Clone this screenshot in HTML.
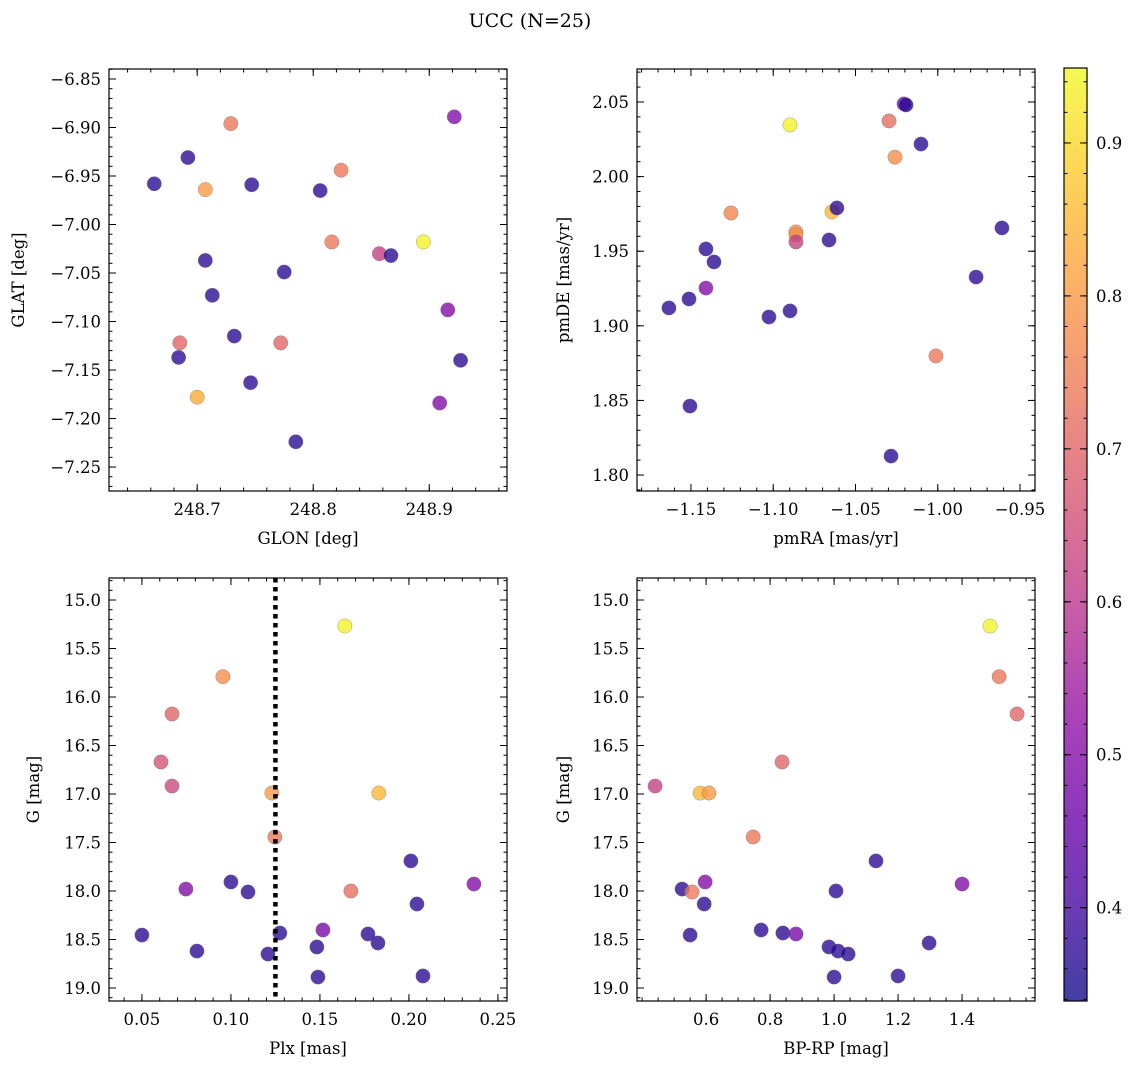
<!DOCTYPE html>
<html><head><meta charset="utf-8"><style>
body{margin:0;background:#fff;}
svg{display:block;font-family:"DejaVu Serif","Liberation Serif",serif;}
</style></head><body>
<svg id="fig" width="1136" height="1068" viewBox="0 0 1136 1068" xmlns="http://www.w3.org/2000/svg">
<text x="530" y="27" font-size="19" text-anchor="middle">UCC (N=25)</text>
</svg>
<script>
// ---- data ----
const glon = [248.9216,248.729,248.692,248.663,248.747,248.707,248.806,248.824,248.816,248.895,248.857,248.867,248.707,248.775,248.713,248.916,248.732,248.685,248.772,248.684,248.927,248.746,248.700,248.909,248.785];
const glat = [-6.889,-6.896,-6.931,-6.958,-6.959,-6.964,-6.965,-6.944,-7.018,-7.018,-7.030,-7.032,-7.037,-7.049,-7.073,-7.088,-7.115,-7.122,-7.122,-7.137,-7.140,-7.163,-7.178,-7.184,-7.224];
const probSky = [0.50,0.74,0.37,0.37,0.37,0.80,0.37,0.74,0.74,0.94,0.62,0.37,0.37,0.37,0.37,0.50,0.37,0.70,0.70,0.37,0.37,0.37,0.83,0.50,0.37];

const pmra = [-1.0205,-1.0193,-1.0296,-1.026,-1.0102,-1.0898,-1.1257,-1.0862,-1.0862,-1.0862,-1.0643,-1.0613,-1.0661,-0.961,-1.1409,-1.136,-1.1409,-0.9767,-1.1512,-1.1634,-1.1026,-1.0898,-1.0011,-1.1506,-1.0284];
const pmde = [2.0487,2.048,2.0373,2.013,2.0218,2.0346,1.9756,1.9629,1.961,1.9562,1.9763,1.979,1.9575,1.9656,1.9515,1.9428,1.9253,1.9327,1.918,1.912,1.9059,1.91,1.8798,1.8462,1.8127];
const probPm = [0.48,0.37,0.72,0.78,0.37,0.94,0.76,0.77,0.79,0.62,0.85,0.37,0.37,0.37,0.37,0.37,0.50,0.37,0.37,0.37,0.37,0.37,0.74,0.37,0.37];

const plx = [0.164,0.0955,0.0669,0.0607,0.0669,0.123,0.1831,0.1247,0.2011,0.0747,0.100,0.1096,0.1674,0.2365,0.2045,0.050,0.1517,0.1275,0.177,0.1826,0.1483,0.0809,0.1208,0.1489,0.2079];
const bprp = [1.4875,1.516,1.572,0.8375,0.4406,0.5813,0.609,0.747,1.131,0.525,0.597,0.556,1.006,1.400,0.594,0.550,0.772,0.840,0.881,1.297,0.984,1.0125,1.044,1.000,1.200];
const gmag = [15.268,15.79,16.175,16.67,16.918,16.99,16.99,17.443,17.69,17.98,17.907,18.01,18.0,17.928,18.134,18.454,18.402,18.433,18.443,18.536,18.577,18.619,18.65,18.887,18.876];
const probPlx = [0.94,0.78,0.70,0.66,0.64,0.80,0.85,0.74,0.37,0.50,0.37,0.37,0.72,0.50,0.37,0.37,0.48,0.37,0.37,0.37,0.37,0.37,0.37,0.37,0.37];
const probCmd = [0.94,0.74,0.70,0.70,0.62,0.85,0.80,0.74,0.37,0.37,0.50,0.74,0.37,0.50,0.37,0.37,0.37,0.37,0.48,0.37,0.37,0.37,0.37,0.37,0.37];
const plxCut = [0.125];

const cbTicks = [0.4,0.5,0.6,0.7,0.8,0.9];
const cbMin = 0.339, cbMax = 0.949;

const NS="http://www.w3.org/2000/svg";
const svg=document.getElementById('fig');
const ALPHA=0.78;
function mk(tag,attrs,parent){const e=document.createElementNS(NS,tag);for(const k in attrs)e.setAttribute(k,attrs[k]);(parent||svg).appendChild(e);return e;}
const stops=[[13,8,135],[65,4,157],[106,0,168],[143,13,164],[177,42,144],[204,71,120],[225,100,98],[242,132,75],[252,166,54],[252,206,37],[240,249,33]];
function plasma(t){t=Math.max(0,Math.min(1,t));const f=t*10,i=Math.min(9,Math.floor(f)),r=f-i;const a=stops[i],b=stops[i+1];return 'rgb('+a.map((v,j)=>Math.round(v+(b[j]-v)*r)).join(',')+')';}
function col(p){return plasma((p-cbMin)/(cbMax-cbMin));}
function fmt(v,d){return (v<0?'\u2212':'')+Math.abs(v).toFixed(d);}

function panel(cfg){
  const {name,L,T,R,B,xmin,xmax,ymin,ymax,yinv,xt,xd,xminor,yt,yd,yminor,xlabel,ylabel,ylx,xs,ys,ps}=cfg;
  const sx=v=>L+(v-xmin)/(xmax-xmin)*(R-L);
  const sy=yinv?(v=>T+(v-ymin)/(ymax-ymin)*(B-T)):(v=>B-(v-ymin)/(ymax-ymin)*(B-T));
  const g=mk('g',{});
  
  
  const pts=mk('g',{},g);
  
  
  xs.forEach((x,i)=>{const c=mk('circle',{cx:sx(x),cy:sy(ys[i]),r:7.2,fill:col(ps[i]),'fill-opacity':ALPHA,stroke:'#777','stroke-width':0.5,'stroke-opacity':0.7},pts);
    
    });
  if(cfg.vline){cfg.vline.forEach(v=>{const l=mk('line',{x1:sx(v),x2:sx(v),y1:T,y2:B,stroke:'#000','stroke-width':4.5,'stroke-dasharray':'4.5,4.5'},g);
    
    });}
  const fr=mk('rect',{x:L,y:T,width:R-L,height:B-T,fill:'none',stroke:'#000','stroke-width':1.2},g);
  
  
  const tk=mk('g',{stroke:'#000','stroke-width':1},g);
  
  
  for(let v=Math.ceil(xmin/xminor-1e-6)*xminor;v<=xmax+1e-9;v+=xminor){const p=sx(v);mk('line',{x1:p,x2:p,y1:B,y2:B-3.5},tk);mk('line',{x1:p,x2:p,y1:T,y2:T+3.5},tk);}
  for(let v=Math.ceil(ymin/yminor-1e-6)*yminor;v<=ymax+1e-9;v+=yminor){const p=sy(v);mk('line',{x1:L,x2:L+3.5,y1:p,y2:p},tk);mk('line',{x1:R,x2:R-3.5,y1:p,y2:p},tk);}
  xt.forEach(v=>{const p=sx(v);mk('line',{x1:p,x2:p,y1:B,y2:B-7},tk);mk('line',{x1:p,x2:p,y1:T,y2:T+7},tk);
    const t=mk('text',{x:p,y:B+24,'font-size':16.5,'text-anchor':'middle'},g);t.textContent=fmt(v,xd);
    
    });
  yt.forEach(v=>{const p=sy(v);mk('line',{x1:L,x2:L+7,y1:p,y2:p},tk);mk('line',{x1:R,x2:R-7,y1:p,y2:p},tk);
    const t=mk('text',{x:L-8,y:p+6,'font-size':16.5,'text-anchor':'end'},g);t.textContent=fmt(v,yd);
    
    });
  const xl=mk('text',{x:(L+R)/2,y:B+53,'font-size':16.5,'text-anchor':'middle'},g);xl.textContent=xlabel;
  
  
  const yl=mk('text',{x:ylx,y:(T+B)/2,'font-size':16.5,'text-anchor':'middle',transform:'rotate(-90 '+ylx+' '+(T+B)/2+')'},g);yl.textContent=ylabel;
  
  
}

panel({name:'sky-panel',L:109,T:69,R:507,B:491,xmin:248.624,xmax:248.967,ymin:-7.2747,ymax:-6.8397,xt:[248.7,248.8,248.9],xd:1,xminor:0.02,yt:[-6.85,-6.9,-6.95,-7.0,-7.05,-7.1,-7.15,-7.2,-7.25],yd:2,yminor:0.01,xlabel:'GLON [deg]',ylabel:'GLAT [deg]',ylx:24,xs:glon,ys:glat,ps:probSky});
panel({name:'pm-panel',L:637,T:69,R:1035,B:491,xmin:-1.1828,xmax:-0.9409,ymin:1.7893,ymax:2.0721,xt:[-1.15,-1.1,-1.05,-1.0,-0.95],xd:2,xminor:0.01,yt:[1.8,1.85,1.9,1.95,2.0,2.05],yd:2,yminor:0.01,xlabel:'pmRA [mas/yr]',ylabel:'pmDE [mas/yr]',ylx:569,xs:pmra,ys:pmde,ps:probPm});
panel({name:'plx-panel',L:109,T:578,R:507,B:1001,xmin:0.0315,xmax:0.2551,ymin:14.773,ymax:19.134,yinv:true,xt:[0.05,0.1,0.15,0.2,0.25],xd:2,xminor:0.01,yt:[15,15.5,16,16.5,17,17.5,18,18.5,19],yd:1,yminor:0.1,xlabel:'Plx [mas]',ylabel:'G [mag]',ylx:39,xs:plx,ys:gmag,ps:probPlx,vline:plxCut});
panel({name:'cmd-panel',L:637,T:578,R:1035,B:1001,xmin:0.384,xmax:1.628,ymin:14.773,ymax:19.134,yinv:true,xt:[0.6,0.8,1.0,1.2,1.4],xd:1,xminor:0.05,yt:[15,15.5,16,16.5,17,17.5,18,18.5,19],yd:1,yminor:0.1,xlabel:'BP-RP [mag]',ylabel:'G [mag]',ylx:569,xs:bprp,ys:gmag,ps:probCmd});

(function(){
  const L=1064,R=1087,T=68,B=1001;
  const g=mk('g',{});
  
  
  const defs=mk('defs',{},g);
  const lg=mk('linearGradient',{id:'cbg',x1:0,y1:1,x2:0,y2:0},defs);
  for(let i=0;i<=20;i++)mk('stop',{offset:i/20,'stop-color':plasma(i/20),'stop-opacity':ALPHA},lg);
  mk('rect',{x:L,y:T,width:R-L,height:B-T,fill:'url(#cbg)',stroke:'#000','stroke-width':1.2},g);
  const sy=v=>B-(v-cbMin)/(cbMax-cbMin)*(B-T);
  for(let v=0.34;v<=cbMax;v+=0.02){const p=sy(v);mk('line',{x1:L,x2:L+3.5,y1:p,y2:p,stroke:'#000'},g);mk('line',{x1:R,x2:R-3.5,y1:p,y2:p,stroke:'#000'},g);}
  cbTicks.forEach(v=>{const p=sy(v);mk('line',{x1:L,x2:L+7,y1:p,y2:p,stroke:'#000'},g);mk('line',{x1:R,x2:R-7,y1:p,y2:p,stroke:'#000'},g);
    const t=mk('text',{x:R+9,y:p+6,'font-size':16.5},g);t.textContent=v.toFixed(1);
    
    });
})();
</script>
</body></html>
